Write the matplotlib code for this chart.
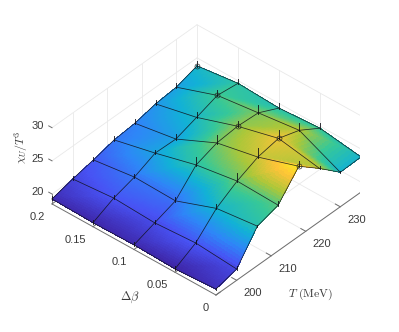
import numpy as np
import matplotlib
matplotlib.use('Agg')
import matplotlib.pyplot as plt
from matplotlib.colors import LinearSegmentedColormap
from mpl_toolkits.mplot3d import proj3d

plt.rcParams['font.family'] = ['Liberation Sans', 'DejaVu Sans']
plt.rcParams['mathtext.fontset'] = 'cm'

T = [194, 200, 206, 212, 218, 224, 230, 236]
dbeta = [0, 0.05, 0.1, 0.15, 0.2]
chi = [
    [19.4, 20.2, 24.45, 25.4, 29.05, 26.5, 23.7, 23.8],
    [19.0, 20.7, 23.7, 25.6, 27.0, 27.6, 26.6, 24.7],
    [19.2, 20.3, 21.4, 24.6, 25.7, 26.0, 25.8, 24.3],
    [19.1, 20.6, 21.55, 22.95, 22.85, 23.9, 25.0, 24.6],
    [19.25, 20.05, 20.7, 21.5, 21.8, 22.5, 22.8, 23.8],
]
err = [
    [0.15, 0.45, 0.15, 0.6, 0.75, 0.3, 0.15, 0.15],
    [0.45, 0.45, 0.6, 1.2, 1.35, 1.2, 1.05, 0.75],
    [0.45, 0.45, 0.6, 1.2, 1.2, 0.75, 1.2, 0.75],
    [0.45, 0.45, 0.45, 0.45, 0.75, 0.75, 0.75, 0.6],
    [0.45, 0.45, 0.45, 0.6, 0.6, 0.6, 0.6, 0.75],
]
peak_T = [218, 224, 224, 230, 236]
T_ticks = [200, 210, 220, 230]
db_ticks = [0, 0.05, 0.1, 0.15, 0.2]
db_labels = ['0', '0.05', '0.1', '0.15', '0.2']
z_ticks = [20, 25, 30]

parula = LinearSegmentedColormap.from_list('parula', [
    (0.2422, 0.1504, 0.6603), (0.2810, 0.3228, 0.9579), (0.1786, 0.5289, 0.9682),
    (0.0689, 0.6948, 0.8394), (0.2161, 0.7843, 0.5923), (0.6720, 0.7793, 0.2227),
    (0.9970, 0.7659, 0.2199), (0.9769, 0.9839, 0.0805)])

W, H = 399, 332
XMIN, XMAX, YMIN, YMAX, ZMIN, ZMAX = 194, 236, 0, 0.2, 18.5, 30
fig = plt.figure(figsize=(W / 100, H / 100), dpi=100)
ax = fig.add_axes([0, 0, 1, 1], projection='3d', computed_zorder=False)
ax.set_proj_type('ortho')
ax.view_init(elev=38.9, azim=-138.5)
ax.set_box_aspect((219, 219, 98))
ax.set_xlim(XMIN, XMAX, view_margin=0)
ax.set_ylim(YMIN, YMAX, view_margin=0)
ax.set_zlim(ZMIN, ZMAX, view_margin=0)
ax.set_xticks([])
ax.set_yticks([])
ax.set_zticks([])
ax.set_axis_off()
ax.patch.set_alpha(0)

T_a, db_a, chi_a, err_a = map(np.array, (T, dbeta, chi, err))

# surface shading: each mesh cell is two linearly coloured triangles (as shading interp)
n = 14
nT, nD = len(T), len(dbeta)
ti = np.linspace(0, nT - 1, (nT - 1) * n + 1)
di = np.linspace(0, nD - 1, (nD - 1) * n + 1)
I, K = np.meshgrid(ti, di)
i0 = np.minimum(I.astype(int), nT - 2)
k0 = np.minimum(K.astype(int), nD - 2)
u, v = I - i0, K - k0
z00, z10 = chi_a[k0, i0], chi_a[k0, i0 + 1]
z01, z11 = chi_a[k0 + 1, i0], chi_a[k0 + 1, i0 + 1]
fine = np.where(u + v <= 1,
                z00 + u * (z10 - z00) + v * (z01 - z00),
                z11 + (1 - u) * (z01 - z11) + (1 - v) * (z10 - z11))
TT = np.interp(I, np.arange(nT), T_a)
DD = np.interp(K, np.arange(nD), db_a)
norm = plt.Normalize(chi_a.min(), 29.4)
ax.plot_surface(TT, DD, fine, facecolors=parula(norm(fine)), rstride=1, cstride=1,
                shade=False, linewidth=0, antialiased=False, zorder=3)

GRID = '#e9e9e9'
AXC = '#6e6e6e'
TXT = '#3a3a3a'
glw = 0.6
# back walls and floor grid
for t in T_ticks:
    ax.plot([t, t], [YMAX, YMAX], [ZMIN, ZMAX], color=GRID, lw=glw, zorder=1)
    ax.plot([t, t], [YMIN, YMAX], [ZMIN, ZMIN], color=GRID, lw=glw, zorder=1)
for d in db_ticks:
    ax.plot([XMAX, XMAX], [d, d], [ZMIN, ZMAX], color=GRID, lw=glw, zorder=1)
    ax.plot([XMIN, XMAX], [d, d], [ZMIN, ZMIN], color=GRID, lw=glw, zorder=1)
for z in z_ticks:
    ax.plot([XMIN, XMAX], [YMAX, YMAX], [z, z], color=GRID, lw=glw, zorder=1)
    ax.plot([XMAX, XMAX], [YMIN, YMAX], [z, z], color=GRID, lw=glw, zorder=1)

# visible axes and ticks; labels are placed once the box is aligned
labels = []
ax.plot([XMIN, XMIN], [YMIN, YMAX], [ZMIN, ZMIN], color=AXC, lw=0.7, zorder=2)
ax.plot([XMIN, XMAX], [YMIN, YMIN], [ZMIN, ZMIN], color=AXC, lw=0.7, zorder=2)
ax.plot([XMIN, XMIN], [YMAX, YMAX], [ZMIN, 20], color=AXC, lw=0.6, zorder=2)
for t in T_ticks:
    ax.plot([t, t], [YMIN, YMIN + 0.006], [ZMIN, ZMIN], color=AXC, lw=0.7, zorder=2)
    labels.append(((t, -0.0085, 17.15), str(t), dict(ha='left', fontsize=8)))
for d, s in zip(db_ticks, db_labels):
    ax.plot([XMIN, XMIN + 1.2], [d, d], [ZMIN, ZMIN], color=AXC, lw=0.7, zorder=2)
    labels.append(((192, d, 17.3), s, dict(ha='right', fontsize=8)))
for z in z_ticks:
    ax.plot([XMIN, XMIN], [YMAX, YMAX + 0.004], [z, z], color=AXC, lw=0.7, zorder=2)
    labels.append(((XMIN, YMAX + 0.01, z - 0.38), str(z), dict(ha='right', fontsize=8)))
labels.append(((XMIN, 0.105, 11.0), r'$\Delta\beta$', dict(ha='center', fontsize=9)))
labels.append(((221.5, 0, 8.5), r'$T\ \mathrm{(MeV)}$', dict(ha='center', fontsize=8.5)))
labels.append(((XMIN, 0.2378, 24.4), r'$\chi_{U}/T^{3}$',
               dict(ha='center', fontsize=8.5, rotation=90)))

# mesh lines
mesh = dict(color='#101018', lw=0.55, alpha=0.85, zorder=5)
for i, t in enumerate(T):
    ax.plot([t] * len(dbeta), dbeta, chi_a[:, i], **mesh)
for k, d in enumerate(dbeta):
    ax.plot(T, [d] * len(T), chi_a[k], **mesh)

# error bars (upper parts rise out of the surface)
for k, d in enumerate(dbeta):
    for i, t in enumerate(T):
        ax.plot([t, t], [d, d], [chi_a[k, i] - 0.12, chi_a[k, i] + err_a[k, i]],
                color='#101018', lw=0.7, alpha=0.85, zorder=6)

# peak markers
for d, pk in zip(dbeta, peak_T):
    i = T.index(pk)
    ax.plot([pk], [d], [chi_a[dbeta.index(d), i]], 'o', ms=3.6, mfc='none', mec='#202020',
            mew=0.45, zorder=7)


def to_display(x, y, z):
    px, py, _z = proj3d.proj_transform(x, y, z, ax.get_proj())
    return ax.transData.transform((px, py))


# align the box with the frame
left_px, right_px = (52.0, 204.0), (361.0, 192.0)
L = 300.0
cx, cy = W / 2, H / 2
for _ in range(5):
    ax.set_position([(cx - L / 2) / W, (cy - L / 2) / H, L / W, L / H])
    fig.canvas.draw()
    a = to_display(XMIN, YMAX, ZMIN)
    b = to_display(XMAX, YMIN, ZMIN)
    s = (right_px[0] - left_px[0]) / (b[0] - a[0])
    tgt = np.array([(left_px[0] + right_px[0]) / 2, H - (left_px[1] + right_px[1]) / 2])
    cur = (a + b) / 2
    cx += tgt[0] - cur[0]
    cy += tgt[1] - cur[1]
    L *= s
ax.set_position([(cx - L / 2) / W, (cy - L / 2) / H, L / W, L / H])
fig.canvas.draw()

for xyz, s, kw in labels:
    p = to_display(*xyz)
    fig.text(p[0] / W, p[1] / H, s, va='center', color=TXT, **kw)

fig.savefig('out.png', dpi=100)
